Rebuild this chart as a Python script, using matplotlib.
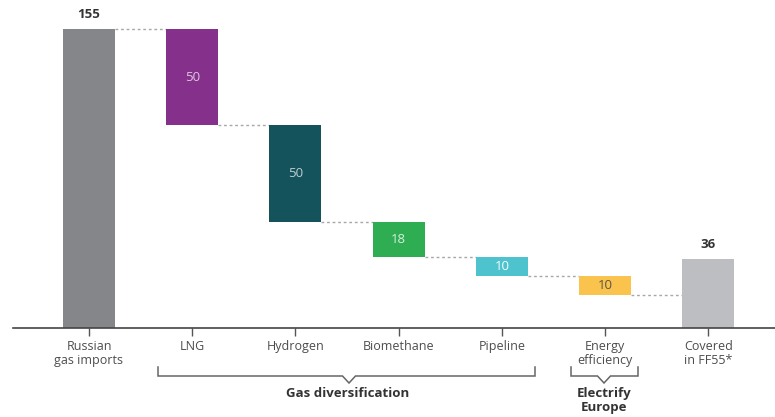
import matplotlib
matplotlib.use("Agg")
import matplotlib.pyplot as plt

# Waterfall: replacing Russian gas imports (bcm)
categories = ["Russian\ngas imports", "LNG", "Hydrogen", "Biomethane",
              "Pipeline", "Energy\nefficiency", "Covered\nin FF55*"]
start_total = 155
steps = [50, 50, 18, 10, 10]
end_total = 36

bar_colors = ["#858689", "#85318C", "#14525C", "#2EAD52", "#4EC3CE",
              "#F9C34E", "#BDBEC1"]
step_text_colors = ["#ffffff", "#ffffff", "#ffffff", "#ffffff", "#4a4a4a"]
step_text_alpha = [0.72, 0.72, 0.8, 0.95, 0.9]

groups = [("Gas diversification", 1, 4), ("Electrify\nEurope", 5, 5)]

plt.rcParams["font.family"] = ["Open Sans", "DejaVu Sans"]

W, H = 775, 417
fig = plt.figure(figsize=(W / 100, H / 100), dpi=100)
px_per_unit = 1.929
axis_y = 328
left_px = 13
ax = fig.add_axes([left_px / W, (H - axis_y) / H, (W - left_px) / W, axis_y / H])
spacing = 103.2
x0 = 89
ax.set_xlim((left_px - x0) / spacing, (W - x0) / spacing)
ax.set_ylim(0, axis_y / px_per_unit)

bw = 0.504
xs = list(range(len(categories)))

# first total bar
ax.bar(xs[0], start_total, width=bw, color=bar_colors[0], zorder=2)
ax.text(xs[0], start_total + 4, str(start_total), ha="center", va="bottom",
        fontsize=9.5, fontweight="bold", color="#333333")

level = start_total
prev_right = xs[0] + bw / 2
for i, v in enumerate(steps):
    xi = xs[i + 1]
    bottom = level - v
    ax.bar(xi, v, bottom=bottom, width=bw, color=bar_colors[i + 1], zorder=2)
    ax.text(xi, bottom + v / 2, str(v), ha="center", va="center", fontsize=9.5,
            color=step_text_colors[i], alpha=step_text_alpha[i])
    ax.plot([prev_right, xi - bw / 2], [level, level], ls=(0, (2, 2)),
            color="#a8a8a8", lw=1.0, zorder=1)
    level = bottom
    prev_right = xi + bw / 2

# closing bar and connector from remaining level
xl = xs[-1]
ax.plot([prev_right, xl - bw / 2], [level, level], ls=(0, (2, 2)),
        color="#a8a8a8", lw=1.0, zorder=1)
ax.bar(xl, end_total, width=bw, color=bar_colors[-1], zorder=2)
ax.text(xl, end_total + 4, str(end_total), ha="center", va="bottom",
        fontsize=9.5, fontweight="bold", color="#333333")

for s in ["top", "right", "left"]:
    ax.spines[s].set_visible(False)
ax.spines["bottom"].set_color("#444444")
ax.spines["bottom"].set_linewidth(1.2)
ax.set_yticks([])
ax.set_xticks(xs)
ax.set_xticklabels(categories, fontsize=9, color="#4d4d4d", linespacing=1.1)
ax.tick_params(axis="x", length=5.5, width=1, color="#555555", pad=3)

# group brackets below the labels
def py(p):
    return (axis_y - p) / px_per_unit

def pxv(p):
    return (p - x0) / spacing

brackets = [(158, 535, 349), (571, 638, 604)]
for (name, _, _), (l, r, m) in zip(groups, brackets):
    y_top, y_line, y_tip = py(367), py(376), py(383)
    xl_, xr_, xm_ = pxv(l), pxv(r), pxv(m)
    dv = 6.5 / spacing
    ax.plot([xl_, xl_, xm_ - dv, xm_, xm_ + dv, xr_, xr_],
            [y_top, y_line, y_line, y_tip, y_line, y_line, y_top],
            color="#666666", lw=1.1, clip_on=False, solid_joinstyle="miter")
    ax.text(xm_ - (1.5 / spacing if "\n" not in name else 0), py(387), name,
            ha="center", va="top", fontsize=9.5, fontweight="bold",
            color="#333333", linespacing=1.1)

fig.savefig("out.png", dpi=100)
